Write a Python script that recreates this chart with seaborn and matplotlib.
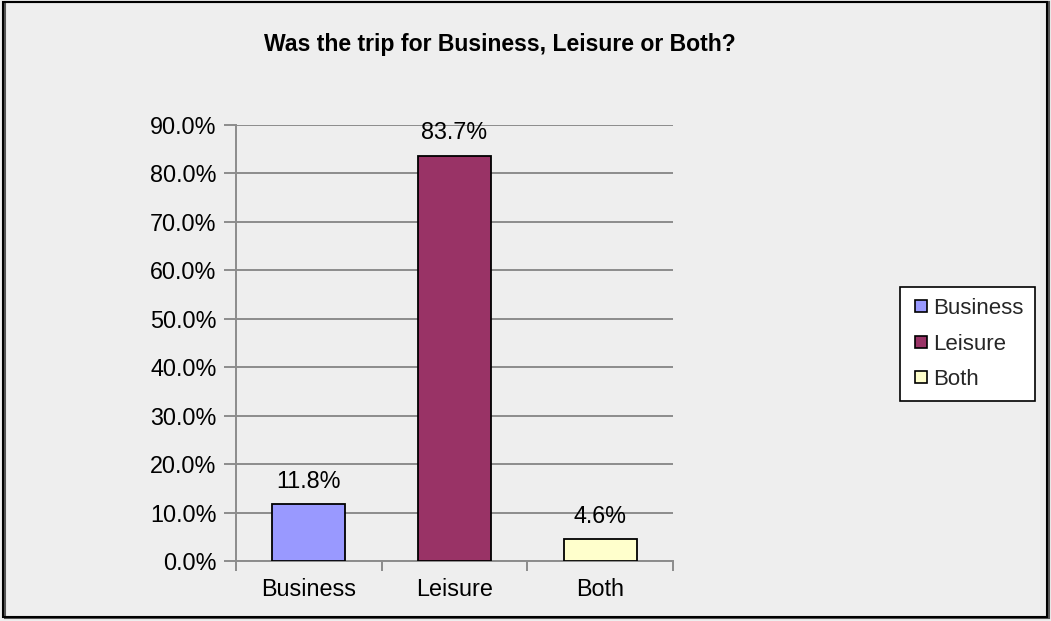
import matplotlib
matplotlib.use("Agg")
import matplotlib.pyplot as plt
from matplotlib.patches import Rectangle
from matplotlib.lines import Line2D
import seaborn as sns
import pandas as pd

# Survey answers: purpose of the trip
categories = ["Business", "Leisure", "Both"]
shares = [11.8, 83.7, 4.6]
bar_colors = ["#9999FF", "#993366", "#FFFFCC"]
y_ticks = [0, 10, 20, 30, 40, 50, 60, 70, 80, 90]

sns.set_theme(style="white")
plt.rcParams["font.family"] = ["Liberation Sans", "DejaVu Sans"]

bg = "#EEEEEE"
grid_c = "#8C8C8C"
fs = 16.8

df = pd.DataFrame({"purpose": categories, "share": shares})

fig = plt.figure(figsize=(10.51, 6.21), dpi=100, facecolor=bg)
ax = fig.add_axes([236 / 1051, 1 - 561 / 621, (673 - 236) / 1051, (561 - 125) / 621])
ax.set_facecolor(bg)

sns.barplot(data=df, x="purpose", y="share", hue="purpose", order=categories,
            palette=bar_colors, saturation=1, width=0.5, edgecolor="black",
            linewidth=1.3, legend=False, ax=ax, zorder=3)

ax.set_ylim(0, 90)
ax.set_xlim(-0.5, 2.5)
ax.set_yticks(y_ticks)
ax.set_yticklabels([f"{v:.1f}%" for v in y_ticks], fontsize=fs, color="black")
ax.yaxis.grid(True, color=grid_c, linewidth=1.4, zorder=0)
ax.xaxis.grid(False)
ax.set_xlabel("")
ax.set_ylabel("")

# Category boundary ticks on the x axis
ax.set_xticks([-0.5, 0.5, 1.5, 2.5], minor=False)
ax.set_xticklabels([])
ax.set_xticks([0, 1, 2], minor=True)
ax.set_xticklabels(categories, minor=True, fontsize=fs, color="black")
ax.tick_params(axis="x", which="major", length=7, width=1.4, color=grid_c, direction="out", bottom=True)
ax.tick_params(axis="x", which="minor", length=0, pad=12)
ax.tick_params(axis="y", length=9, width=1.4, color=grid_c, direction="out", left=True, pad=5)

for side in ["top", "right"]:
    ax.spines[side].set_visible(False)
for side in ["left", "bottom"]:
    ax.spines[side].set_color(grid_c)
    ax.spines[side].set_linewidth(1.4)

for i, v in enumerate(shares):
    ax.text(i, v + 2.3, f"{v:.1f}%", ha="center", va="bottom", fontsize=fs, color="black")

fig.text(500 / 1051, 1 - 44 / 621, "Was the trip for Business, Leisure or Both?",
         ha="center", va="center", fontsize=16.6, fontweight="bold", color="black")

handles = [Line2D([0], [0], marker="s", linestyle="", markersize=8,
                  markerfacecolor=c, markeredgecolor="black", markeredgewidth=1.2)
           for c in bar_colors]
leg = fig.legend(handles, categories, loc="center left",
                 bbox_to_anchor=(900 / 1051, 1 - 344 / 621), fontsize=16,
                 frameon=True, fancybox=False, edgecolor="black", facecolor="white",
                 handletextpad=0.1, handlelength=0.9, labelspacing=0.65,
                 borderpad=0.5, borderaxespad=0)
leg.get_frame().set_linewidth(1.2)
leg.get_frame().set_alpha(1)

# Outer chart border with a slight shadow
fig.patches.append(Rectangle((5 / 1051, 3 / 621), 1044 / 1051, 616 / 621,
                             transform=fig.transFigure, fill=False,
                             edgecolor="#555555", linewidth=1.5, zorder=9))
fig.patches.append(Rectangle((3 / 1051, 4 / 621), 1044 / 1051, 615 / 621,
                             transform=fig.transFigure, fill=False,
                             edgecolor="black", linewidth=1.5, zorder=10))

fig.savefig("out.png", dpi=100, facecolor=bg)
